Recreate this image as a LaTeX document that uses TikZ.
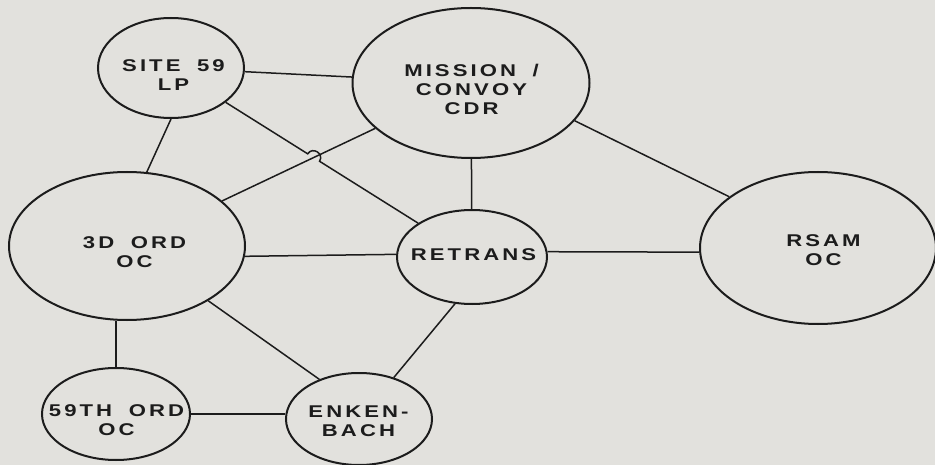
\documentclass[tikz,border=0pt]{standalone}
\usepackage{fontspec}
\setmainfont{Liberation Sans}[BoldFont={Liberation Sans Bold}]
\newfontfamily\diagfont{Liberation Sans Bold}[FakeStretch=1.3, LetterSpace=18, WordSpace=1.8]
\usetikzlibrary{shapes.geometric,calc,intersections}
\definecolor{paper}{RGB}{226,225,221}
\definecolor{ink}{RGB}{28,28,28}
\begin{document}
\begin{tikzpicture}[x=1pt,y=-1pt,
  ell/.style={ellipse, draw=ink, line width=2pt, inner sep=0pt},
  conn/.style={draw=ink, line width=1.5pt},
  lbl/.style={font=\diagfont\fontsize{17}{19}\selectfont, text=ink, align=center, inner sep=0pt, xshift=1.5pt}]
\fill[paper] (0,0) rectangle (935,465);
\useasboundingbox (0,0) rectangle (935,465);

% ellipses
\node[ell, minimum width=146pt, minimum height=100pt] (site) at (171,68) {};
\node[ell, minimum width=237pt, minimum height=150pt] (mission) at (471,83) {};
\node[ell, minimum width=236pt, minimum height=148pt] (ord3) at (127,246) {};
\node[ell, minimum width=150pt, minimum height=94pt] (retrans) at (472,257) {};
\node[ell, minimum width=236pt, minimum height=152pt] (rsam) at (818,248) {};
\node[ell, minimum width=148pt, minimum height=92pt] (ord59) at (116,414) {};
\node[ell, minimum width=146pt, minimum height=92pt] (enken) at (359,419) {};

% labels
\node[lbl] (siteT) at (172,75) {SITE 59\\LP};
\node[lbl] (missionT) at (470,89) {MISSION /\\CONVOY\\CDR};
\node[lbl] (ord3T) at (133,252) {3D ORD\\OC};
\node[lbl] (retransT) at (472,255) {RETRANS};
\node[lbl] (rsamT) at (822,250) {RSAM\\OC};
\node[lbl] (ord59T) at (115,420) {59TH ORD\\OC};
\node[lbl] (enkenT) at (357,421) {ENKEN-\\BACH};

% connectors
\draw[conn] (site) -- (mission);
\draw[conn] (site.-90) -- (ord3.75);
\draw[conn] (ord3) -- (mission);
\draw[conn] (mission) -- (retrans);
\draw[conn] (mission.-20) -- (rsam.150);
\draw[conn] (ord3.-5) -- (retrans.178);
\draw[conn] (ord59.north) -- (ord59.north |- ord3.south);
\draw[conn] (ord3.-34) -- (enken.135);
\draw[conn] (retrans.4) -- (rsam.182);
\draw[conn] (retrans.-110) -- (enken.50);
\draw[conn] (ord59.east) -- (enken.west |- ord59.east);

% site -- retrans with a hop over ord3 -- mission
\path[name path=pA] (site) -- (retrans);
\path[name path=pB] (ord3) -- (mission);
\path[name intersections={of=pA and pB, by=X}];
\coordinate (h1) at ($(X)!7pt!(site)$);
\coordinate (h2) at ($(X)!7pt!(retrans)$);
\draw[conn] (site) -- (h1) .. controls ($(h1)!9pt!90:(h2)$) and ($(h2)!9pt!-90:(h1)$) .. (h2) -- (retrans);
\end{tikzpicture}
\end{document}
